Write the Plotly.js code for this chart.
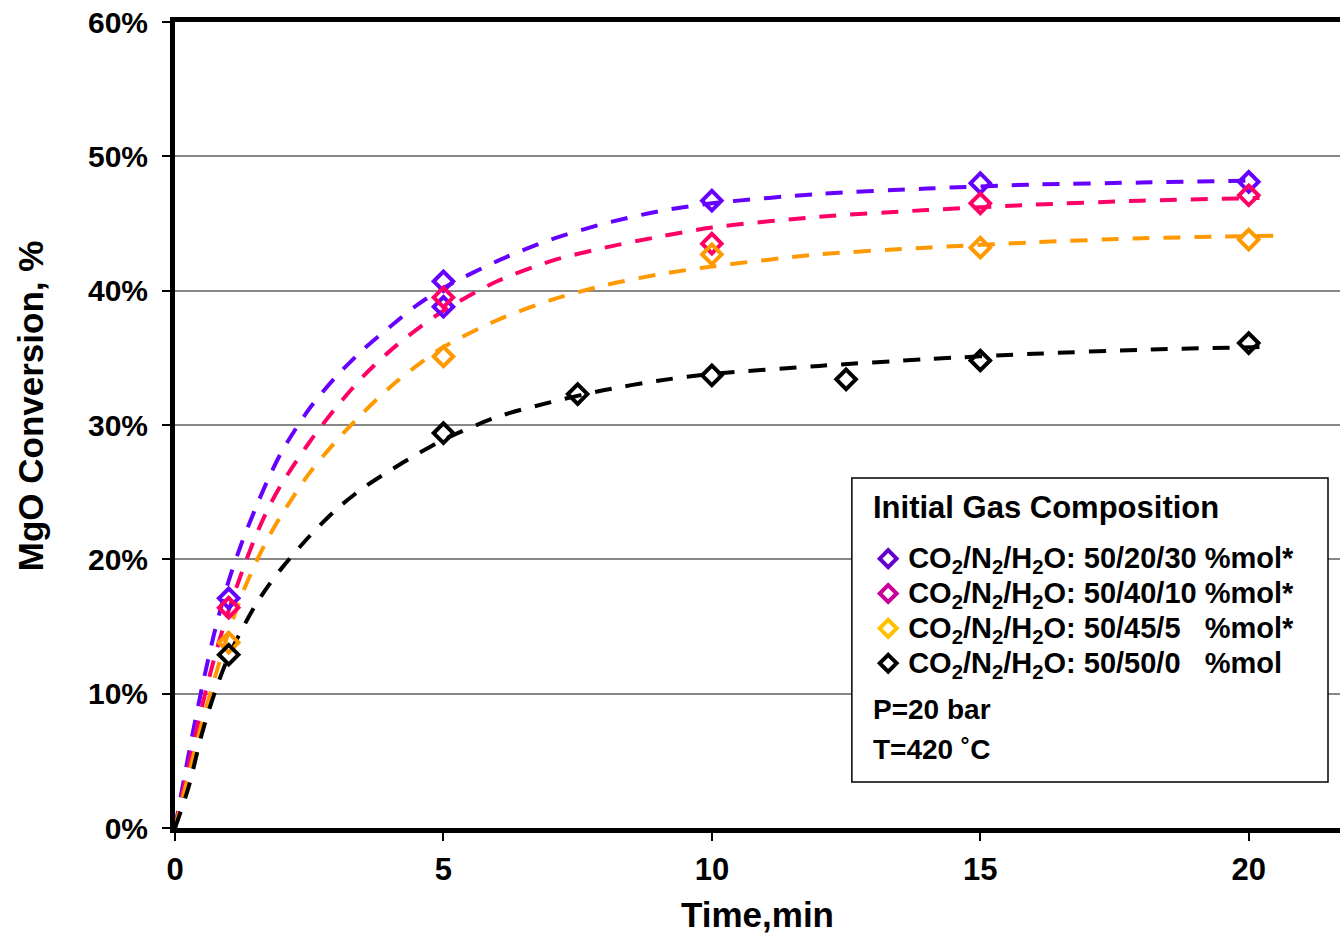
<!DOCTYPE html>
<html>
<head>
<meta charset="utf-8">
<script src="https://cdn.plot.ly/plotly-3.0.1.min.js"></script>
<style>html,body{margin:0;padding:0;background:#fff;}#chart{width:1340px;height:935px;}</style>
</head>
<body>
<div id="chart"></div>
<script>
// ---- measured data (time in min, conversion in %) ----
const seriesNames = [
  'CO<sub>2</sub>/N<sub>2</sub>/H<sub>2</sub>O: 50/20/30 %mol*',
  'CO<sub>2</sub>/N<sub>2</sub>/H<sub>2</sub>O: 50/40/10 %mol*',
  'CO<sub>2</sub>/N<sub>2</sub>/H<sub>2</sub>O: 50/45/5&nbsp;&nbsp;&nbsp;%mol*',
  'CO<sub>2</sub>/N<sub>2</sub>/H<sub>2</sub>O: 50/50/0&nbsp;&nbsp;&nbsp;%mol'
];
const legendTitle = 'Initial Gas Composition';
const notePressure = 'P=20 bar';
const noteTemperature = 'T=420 ˚C';

const time_h2o30 = [1, 5, 5, 10, 15, 20];
const conv_h2o30 = [17.1, 40.7, 38.8, 46.7, 48.0, 48.1];

const time_h2o10 = [1, 5, 10, 15, 20];
const conv_h2o10 = [16.4, 39.5, 43.5, 46.5, 47.1];

const time_h2o5 = [1, 5, 10, 15, 20];
const conv_h2o5 = [13.8, 35.1, 42.7, 43.2, 43.8];

const time_h2o0 = [1, 5, 7.5, 10, 12.5, 15, 20];
const conv_h2o0 = [12.9, 29.4, 32.3, 33.7, 33.4, 34.8, 36.1];

// ---- fitted trend curves ----
const fitTime = [0, 0.25, 0.5, 0.75, 1, 1.25, 1.5, 1.75, 2, 2.5, 3, 3.5, 4, 4.5, 5, 6, 7, 8, 9, 10, 12, 14, 16, 18, 20.2];
const fitTimeOrange = [0, 0.25, 0.5, 0.75, 1, 1.25, 1.5, 1.75, 2, 2.5, 3, 3.5, 4, 4.5, 5, 6, 7, 8, 9, 10, 12, 14, 16, 18, 20.6];
const fit_h2o30 = [0, 5.4, 10.4, 14.8, 18.4, 21.3, 23.8, 26.1, 28.1, 31.2, 33.6, 35.6, 37.3, 38.9, 40.2, 42.2, 43.8, 45.0, 45.9, 46.5, 47.2, 47.6, 47.9, 48.05, 48.2];
const fit_h2o10 = [0, 4.6, 9.0, 12.9, 16.2, 19.1, 21.7, 23.9, 25.7, 28.7, 31.3, 33.6, 35.5, 37.1, 38.5, 40.7, 42.2, 43.2, 44.0, 44.7, 45.5, 46.0, 46.4, 46.7, 46.9];
const fit_h2o5  = [0, 3.9, 7.8, 11.3, 14.6, 17.4, 19.7, 21.7, 23.4, 26.4, 28.8, 30.9, 32.8, 34.4, 35.8, 37.8, 39.3, 40.4, 41.2, 41.8, 42.7, 43.2, 43.6, 43.9, 44.1];
const fit_h2o0  = [0, 3.0, 7.0, 10.2, 12.8, 14.8, 16.6, 18.1, 19.4, 21.7, 23.7, 25.3, 26.6, 27.8, 28.9, 30.6, 31.7, 32.6, 33.3, 33.8, 34.4, 34.9, 35.3, 35.6, 35.8];

const xTicks = [0, 5, 10, 15, 20];
const yTicks = [0, 10, 20, 30, 40, 50, 60];
const yTickText = ['0%', '10%', '20%', '30%', '40%', '50%', '60%'];

const plotColors = ['#6600FF', '#FF0066', '#FF9900', '#000000'];
const legendColors = ['#6600CC', '#CC0099', '#FFC000', '#000000'];

const FONT = 'Liberation Sans, Arial, sans-serif';

const fits = [
  [fitTime, fit_h2o30], [fitTime, fit_h2o10], [fitTimeOrange, fit_h2o5], [fitTime, fit_h2o0]
];
const pts = [
  [time_h2o30, conv_h2o30], [time_h2o10, conv_h2o10], [time_h2o5, conv_h2o5], [time_h2o0, conv_h2o0]
];

const traces = [];
fits.forEach((f, i) => {
  traces.push({
    x: f[0], y: f[1], mode: 'lines', type: 'scatter', showlegend: false, hoverinfo: 'skip',
    line: {color: plotColors[i], width: 4, dash: '17px,14px', shape: 'spline', smoothing: 0.8}
  });
});
pts.forEach((p, i) => {
  traces.push({
    x: p[0], y: p[1], mode: 'markers', type: 'scatter', showlegend: false,
    marker: {symbol: 'diamond-open', size: 15, color: plotColors[i], line: {width: 4, color: plotColors[i]}}
  });
});
// legend entries (legend symbols only)
seriesNames.forEach((n, i) => {
  traces.push({
    x: [null], y: [null], mode: 'markers', type: 'scatter',
    name: '<span style="font-size:29px">' + n + '</span>', showlegend: true,
    marker: {symbol: 'diamond-open', size: 13, color: legendColors[i], line: {width: 4, color: legendColors[i]}}
  });
});

const layout = {
  width: 1340, height: 935,
  margin: {l: 175, r: 0, t: 22, b: 107},
  paper_bgcolor: '#ffffff', plot_bgcolor: '#ffffff',
  font: {family: FONT, color: '#000', weight: 'bold'},
  showlegend: true,
  xaxis: {
    range: [0, 21.7], tickvals: xTicks, ticktext: xTicks.map(String),
    showgrid: false, zeroline: false,
    showline: true, linecolor: '#000', linewidth: 5, mirror: true,
    ticks: 'outside', ticklen: 8, tickwidth: 2, tickcolor: '#000',
    tickfont: {family: FONT, size: 31, weight: 'bold', color: '#000'},
    ticklabelstandoff: 2,
    title: {text: 'Time,min', font: {family: FONT, size: 35, weight: 'bold', color: '#000'}, standoff: 18}
  },
  yaxis: {
    range: [0, 60], tickvals: yTicks, ticktext: yTickText,
    showgrid: true, gridcolor: '#878787', gridwidth: 2, zeroline: false,
    showline: true, linecolor: '#000', linewidth: 5, mirror: false,
    ticks: 'outside', ticklen: 8, tickwidth: 2, tickcolor: '#000',
    tickfont: {family: FONT, size: 30, weight: 'bold', color: '#000'},
    ticklabelstandoff: 8
  },
  legend: {
    x: 0.595, y: 0.362, xanchor: 'left', yanchor: 'top',
    bgcolor: 'rgba(0,0,0,0)', borderwidth: 0,
    font: {family: FONT, size: 24.5, weight: 'bold', color: '#000'},
    itemclick: false, itemdoubleclick: false
  },
  shapes: [{
    type: 'rect', xref: 'paper', yref: 'paper', layer: 'above',
    x0: 0.581, x1: 0.9897, y0: 0.0571, y1: 0.4342,
    line: {color: '#000', width: 1.5}, fillcolor: '#ffffff'
  }],
  annotations: [
    {xref: 'paper', yref: 'paper', x: -0.124, y: 0.524, xanchor: 'center', yanchor: 'middle', textangle: -90,
     showarrow: false, text: 'MgO Conversion, %', font: {family: FONT, size: 35, weight: 'bold', color: '#000'}},
    {xref: 'paper', yref: 'paper', x: 0.597, y: 0.398, xanchor: 'left', yanchor: 'middle',
     showarrow: false, text: legendTitle, font: {family: FONT, size: 31, weight: 'bold', color: '#000'}},
    {xref: 'paper', yref: 'paper', x: 0.597, y: 0.1476, xanchor: 'left', yanchor: 'middle',
     showarrow: false, text: notePressure, font: {family: FONT, size: 28, weight: 'bold', color: '#000'}},
    {xref: 'paper', yref: 'paper', x: 0.597, y: 0.098, xanchor: 'left', yanchor: 'middle',
     showarrow: false, text: noteTemperature, font: {family: FONT, size: 28, weight: 'bold', color: '#000'}}
  ]
};

Plotly.newPlot('chart', traces, layout, {displayModeBar: false, staticPlot: true});
</script>
</body>
</html>
